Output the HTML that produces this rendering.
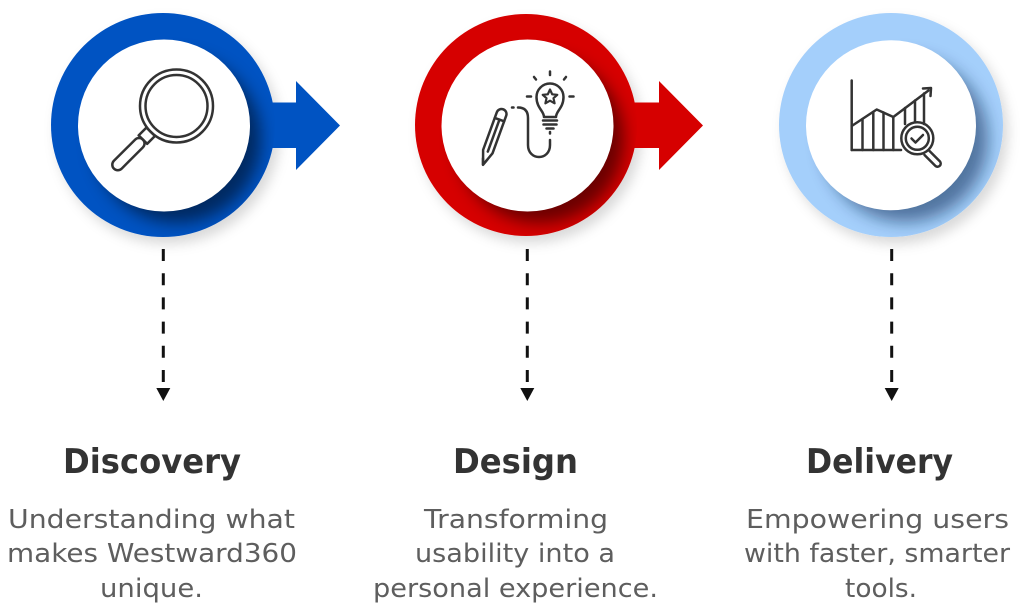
<!DOCTYPE html>
<html>
<head>
<meta charset="utf-8">
<style>
  html,body{margin:0;padding:0;background:#fff;}
  svg{display:block;}
  .t{font-family:"DejaVu Sans","Liberation Sans",sans-serif;font-weight:bold;font-size:34px;fill:#333;}
  .b{font-family:"DejaVu Sans","Liberation Sans",sans-serif;font-size:26px;fill:#5e5e5e;}
  .ic{fill:none;stroke:#333;stroke-width:2.5;stroke-linecap:round;stroke-linejoin:round;}
</style>
</head>
<body>
<svg width="1024" height="607" viewBox="0 0 1024 607" xmlns="http://www.w3.org/2000/svg">
  <defs>
    <filter id="outer" x="-30%" y="-30%" width="160%" height="160%">
      <feDropShadow dx="5" dy="7" stdDeviation="6" flood-color="#000" flood-opacity="0.15"/>
    </filter>
    <filter id="blur" x="-30%" y="-30%" width="160%" height="160%">
      <feGaussianBlur stdDeviation="8"/>
    </filter>
    <clipPath id="c1"><circle cx="163" cy="125" r="112"/></clipPath>
    <clipPath id="c2"><circle cx="526" cy="125" r="111"/></clipPath>
    <clipPath id="c3"><circle cx="891" cy="125" r="112"/></clipPath>
  </defs>

  <!-- ===== Step 1 ===== -->
  <circle cx="163" cy="125" r="112" fill="#0053C2" filter="url(#outer)"/>
  <path d="M250 102.5 H296 V81 L340 125.5 L296 170 V148 H250 Z" fill="#0053C2"/>
  <g clip-path="url(#c1)">
    <circle cx="177" cy="139" r="84" fill="#000" opacity="0.5" filter="url(#blur)"/>
  </g>
  <circle cx="164" cy="125.5" r="86" fill="#fff"/>
  <!-- magnifier -->
  <g transform="translate(176.5,106) rotate(135)" class="ic">
    <circle cx="0" cy="0" r="36.5"/>
    <circle cx="0" cy="0" r="31"/>
    <rect x="36.5" y="-6" width="11" height="12"/>
    <rect x="47.5" y="-5.5" width="41" height="11" rx="5.5"/>
  </g>

  <!-- ===== Step 2 ===== -->
  <circle cx="526" cy="125" r="111" fill="#D60000" filter="url(#outer)"/>
  <path d="M613 102.5 H659 V81 L703 125.5 L659 170 V148 H613 Z" fill="#D60000"/>
  <g clip-path="url(#c2)">
    <circle cx="540" cy="139" r="84" fill="#000" opacity="0.5" filter="url(#blur)"/>
  </g>
  <circle cx="527.5" cy="125.5" r="86" fill="#fff"/>
  <!-- bulb icon -->
  <g class="ic">
    <path d="M544 117 C544 111, 536.5 108, 536.5 97 A13.5 13.5 0 1 1 563.5 97 C563.5 108, 556 111, 556 117 Z"/>
    <line x1="543" y1="120.5" x2="557" y2="120.5"/>
    <line x1="543.5" y1="124.5" x2="556.5" y2="124.5"/>
    <line x1="546.5" y1="128.5" x2="553.5" y2="128.5"/>
    <path d="M550 89.5 L552.2 94.3 L557.3 94.8 L553.5 98.2 L554.6 103.3 L550 100.7 L545.4 103.3 L546.5 98.2 L542.7 94.8 L547.8 94.3 Z" stroke-width="2.2"/>
    <line x1="550" y1="71.5" x2="550" y2="75"/>
    <line x1="534" y1="77" x2="536" y2="79.5"/>
    <line x1="566" y1="77" x2="564" y2="79.5"/>
    <line x1="527" y1="96.5" x2="531" y2="96.5"/>
    <line x1="569.5" y1="96.5" x2="573.5" y2="96.5"/>
    <line x1="550" y1="132" x2="550" y2="133.5"/>
    <path d="M550 140 L550 145 C550 161, 528 161, 528 145 L528 118 C528 111, 524.5 107.5, 518 107.5"/>
    <line x1="512" y1="107.5" x2="513.5" y2="107.5"/>
  </g>
  <!-- pencil -->
  <g transform="translate(501.5,114) rotate(110)" class="ic">
    <path d="M0 -5 L40 -5 L54 0 L40 5 L0 5 A5 5 0 0 1 0 -5 Z"/>
    <line x1="6" y1="-5" x2="6" y2="5"/>
    <line x1="6" y1="0" x2="40" y2="0"/>
    <path d="M48 -2.2 L54 0 L48 2.2"/>
  </g>

  <!-- ===== Step 3 ===== -->
  <circle cx="891" cy="125" r="112" fill="#A4CFFB" filter="url(#outer)"/>
  <g clip-path="url(#c3)">
    <circle cx="905" cy="139" r="83" fill="#0a2a55" opacity="0.55" filter="url(#blur)"/>
  </g>
  <circle cx="891" cy="125.3" r="85" fill="#fff"/>
  <!-- chart icon -->
  <g class="ic">
    <line x1="851.7" y1="80.5" x2="851.7" y2="150"/>
    <line x1="851.7" y1="150" x2="901" y2="150"/>
    <polyline points="851.7,126 876.7,109.5 893.3,117 928.5,90.5"/>
    <polyline points="923,88.5 931,88 930.5,96"/>
    <line x1="862.5" y1="119" x2="862.5" y2="150"/>
    <line x1="873.3" y1="112" x2="873.3" y2="150"/>
    <line x1="883.5" y1="112.5" x2="883.5" y2="150"/>
    <line x1="893.3" y1="117" x2="893.3" y2="150"/>
    <line x1="905" y1="108" x2="905" y2="124"/>
    <line x1="915" y1="100.5" x2="915" y2="122"/>
    <line x1="924" y1="93.5" x2="924" y2="124"/>
    <circle cx="917.3" cy="138.3" r="16"/>
    <circle cx="917.3" cy="138.3" r="11.5"/>
    <polyline points="911.5,138.5 915.5,142.5 923,135"/>
    <path d="M929 150.5 L940 161.5 A3.2 3.2 0 0 1 935.5 166 L924.5 155"/>
  </g>

  <!-- ===== dashed connectors ===== -->
  <g stroke="#111" stroke-width="3" stroke-dasharray="12 12.2">
    <line x1="163.3" y1="249" x2="163.3" y2="382"/>
    <line x1="527.3" y1="249" x2="527.3" y2="382"/>
    <line x1="891.7" y1="249" x2="891.7" y2="382"/>
  </g>
  <g fill="#111">
    <path d="M156.3 388 H170.3 L163.3 401 Z"/>
    <path d="M520.3 388 H534.3 L527.3 401 Z"/>
    <path d="M884.7 388 H898.7 L891.7 401 Z"/>
  </g>

  <!-- ===== titles ===== -->
  <text class="t" x="152" y="473" text-anchor="middle" textLength="178" lengthAdjust="spacingAndGlyphs">Discovery</text>
  <text class="t" x="515.5" y="473" text-anchor="middle" textLength="125" lengthAdjust="spacingAndGlyphs">Design</text>
  <text class="t" x="879.5" y="473" text-anchor="middle" textLength="147" lengthAdjust="spacingAndGlyphs">Delivery</text>

  <!-- ===== body ===== -->
  <text class="b" x="151.5" y="528" text-anchor="middle" textLength="287" lengthAdjust="spacingAndGlyphs">Understanding what</text>
  <text class="b" x="152" y="562" text-anchor="middle" textLength="290" lengthAdjust="spacingAndGlyphs">makes Westward360</text>
  <text class="b" x="151.5" y="597" text-anchor="middle" textLength="103" lengthAdjust="spacingAndGlyphs">unique.</text>

  <text class="b" x="516" y="528" text-anchor="middle" textLength="184" lengthAdjust="spacingAndGlyphs">Transforming</text>
  <text class="b" x="515" y="562" text-anchor="middle" textLength="200" lengthAdjust="spacingAndGlyphs">usability into a</text>
  <text class="b" x="515.5" y="597" text-anchor="middle" textLength="285" lengthAdjust="spacingAndGlyphs">personal experience.</text>

  <text class="b" x="877.5" y="528" text-anchor="middle" textLength="263" lengthAdjust="spacingAndGlyphs">Empowering users</text>
  <text class="b" x="877" y="562" text-anchor="middle" textLength="266" lengthAdjust="spacingAndGlyphs">with faster, smarter</text>
  <text class="b" x="881" y="597" text-anchor="middle" textLength="72" lengthAdjust="spacingAndGlyphs">tools.</text>
</svg>
</body>
</html>
